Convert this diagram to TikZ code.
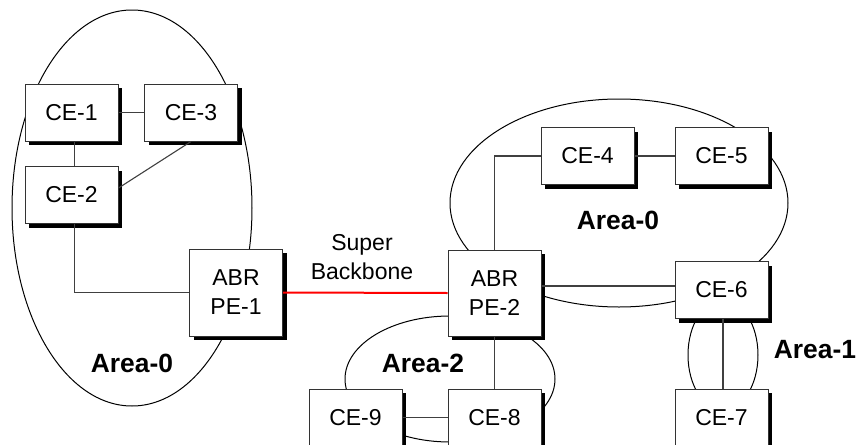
\documentclass[tikz,border=0pt]{standalone}
\usepackage{fontspec}
\setmainfont{Liberation Sans}
% #1 name, #2 x, #3 y, #4 half height (px), #5 text
\newcommand\netbox[5]{%
  \fill[shadowfill] (#2,#3) ++(-42.5,{-#4+4}) rectangle ++(93,{2*#4});
  \node[box,minimum height={#4*1pt}] (#1) at (#2,#3) {#5};}
\begin{document}
\begin{tikzpicture}[x=0.5pt,y=-0.5pt,
  box/.style={draw=black!80,line width=0.5pt,fill=white,inner sep=0pt,
    minimum width=46.5pt,align=center,
    font=\fontsize{11.5}{14.5}\selectfont},
  shadowfill/.style={fill=black},
  link/.style={draw=black!75,line width=0.55pt},
  area/.style={draw=black,line width=0.5pt},
  arealabel/.style={font=\fontsize{13.2}{15}\selectfont\bfseries},
  plain/.style={font=\fontsize{11.5}{14.5}\selectfont,align=center}]
\useasboundingbox (0,0) rectangle (858,445);
\clip (0,0) rectangle (858,445);
% areas
\draw[area] (132,208) ellipse [x radius=60pt,y radius=99pt];
\draw[area] (619,203) ellipse [x radius=84.5pt,y radius=52pt];
\draw[area] (450,379) ellipse [x radius=52.5pt,y radius=31.5pt];
\draw[area] (723,355) ellipse [x radius=17.5pt,y radius=27.5pt];
% nodes
\netbox{ce1}{71.5}{112.5}{28.5}{CE-1}
\netbox{ce3}{191}{112.5}{28.5}{CE-3}
\netbox{ce2}{71.5}{195}{28.5}{CE-2}
\netbox{pe1}{236}{292.5}{43.5}{ABR\\PE-1}
\netbox{pe2}{494.5}{293}{43}{ABR\\PE-2}
\netbox{ce4}{587.5}{156}{28.5}{CE-4}
\netbox{ce5}{721.5}{156}{28.5}{CE-5}
\netbox{ce6}{721.5}{290}{28.5}{CE-6}
\netbox{ce7}{721.5}{417.5}{28.5}{CE-7}
\netbox{ce9}{355.5}{417.5}{28.5}{CE-9}
\netbox{ce8}{494.5}{417.5}{28.5}{CE-8}
% links
\draw[link] (ce1.east) -- (ce3.west);
\draw[link] ([xshift=1.5pt]ce1.south) -- ([xshift=1.5pt]ce2.north);
\draw[link] (ce3.south) -- ([yshift=3.5pt]ce2.east);
\draw[link] ([xshift=1.5pt]ce2.south) |- (pe1.west);
\draw[red,line width=1pt] (pe1.east) -- (pe2.west);
\draw[link] (pe2.north) |- (ce4.west);
\draw[link] (ce4.east) -- (ce5.west);
\draw[link] ([yshift=3.5pt]pe2.east) -- ([yshift=3.5pt]pe2.east -| ce6.west);
\draw[link] ([xshift=0.75pt]ce6.south) -- ([xshift=0.75pt]ce7.north);
\draw[link] (pe2.south) -- (ce8.north);
\draw[link] (ce9.east) -- (ce8.west);
% labels
\node[plain] (sb) at (362,257.5) {Super\\Backbone};
\node[arealabel] (a0l) at (132,363) {Area-0};
\node[arealabel] (a0r) at (618,220) {Area-0};
\node[arealabel] (a2) at (423,363) {Area-2};
\node[arealabel] (a1) at (815,350) {Area-1};
\end{tikzpicture}
\end{document}
